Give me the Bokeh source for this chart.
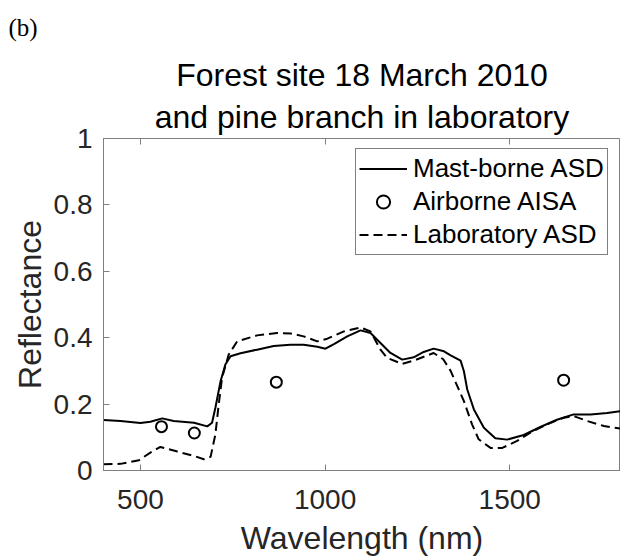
from bokeh.plotting import figure
from bokeh.models import (Range1d, FixedTicker, LinearAxis, Title, Legend, LegendItem,
                          CustomJSTickFormatter)
from bokeh.embed import file_html
from bokeh.resources import INLINE

# ---------------- data ----------------
mast_wl = [400, 446, 500, 527, 559, 590, 645, 681, 694, 703, 717, 730, 744, 771, 816,
           861, 906, 942, 979, 1001, 1024, 1060, 1096, 1123, 1150, 1177, 1209, 1240,
           1267, 1294, 1322, 1340, 1367, 1376, 1385, 1403, 1430, 1461, 1493, 1538,
           1583, 1628, 1673, 1719, 1764, 1800]
mast_refl = [0.152, 0.149, 0.143, 0.147, 0.157, 0.149, 0.144, 0.133, 0.144, 0.189,
             0.269, 0.319, 0.344, 0.353, 0.364, 0.375, 0.379, 0.379, 0.373, 0.367,
             0.381, 0.404, 0.422, 0.414, 0.384, 0.354, 0.334, 0.341, 0.357, 0.367,
             0.359, 0.347, 0.331, 0.299, 0.244, 0.184, 0.129, 0.097, 0.093, 0.107,
             0.131, 0.153, 0.169, 0.169, 0.173, 0.179]

lab_wl = [400, 446, 496, 527, 554, 600, 645, 672, 690, 703, 712, 721, 739, 762, 816,
          870, 906, 942, 979, 1006, 1051, 1096, 1123, 1150, 1168, 1209, 1240, 1294,
          1320, 1340, 1376, 1398, 1416, 1448, 1480, 1520, 1556, 1601, 1646, 1673,
          1710, 1755, 1800]
lab_refl = [0.019, 0.020, 0.031, 0.054, 0.071, 0.057, 0.044, 0.034, 0.041, 0.109,
            0.199, 0.279, 0.349, 0.389, 0.407, 0.414, 0.413, 0.404, 0.389, 0.397,
            0.419, 0.431, 0.419, 0.364, 0.339, 0.321, 0.331, 0.354, 0.335, 0.300,
            0.209, 0.139, 0.094, 0.068, 0.068, 0.089, 0.114, 0.139, 0.159, 0.164,
            0.149, 0.134, 0.126]

aisa_wl = [557, 646, 868, 1646]
aisa_refl = [0.132, 0.113, 0.266, 0.272]

x_ticks = [500, 1000, 1500]
y_ticks = [0, 0.2, 0.4, 0.6, 0.8, 1]

title_lines = ["Forest site 18 March 2010", "and pine branch in laboratory"]
panel_tag = "(b)"
series_names = ["Mast-borne ASD", "Airborne AISA", "Laboratory ASD"]

# ---------------- figure ----------------
SANS = "Liberation Sans"
TXT = "#262626"
AX = "#7f7f7f"

p = figure(width=620, height=558, output_backend="svg", toolbar_location=None,
           x_range=Range1d(400, 1800), y_range=Range1d(0, 1),
           min_border_left=103, min_border_right=0, min_border_top=138,
           min_border_bottom=88, background_fill_color="white",
           border_fill_color="white")
p.grid.visible = False
p.outline_line_color = AX
p.outline_line_width = 1

for ax in (p.xaxis[0], p.yaxis[0]):
    ax.major_tick_in = 6
    ax.major_tick_out = 0
    ax.minor_tick_line_color = None
    ax.axis_line_color = AX
    ax.major_tick_line_color = AX
    ax.major_label_text_font = SANS
    ax.major_label_text_font_size = "28px"
    ax.major_label_text_color = TXT
    ax.axis_label_text_font = SANS
    ax.axis_label_text_font_size = "32px"
    ax.axis_label_text_font_style = "normal"
    ax.axis_label_text_color = TXT

p.xaxis[0].ticker = FixedTicker(ticks=x_ticks)
p.yaxis[0].ticker = FixedTicker(ticks=y_ticks)
p.yaxis[0].formatter = CustomJSTickFormatter(code="return String(Math.round(tick*10)/10);")
p.xaxis[0].axis_label = "Wavelength (nm)"
p.yaxis[0].axis_label = "Reflectance"
p.xaxis[0].major_label_standoff = 19
p.yaxis[0].major_label_standoff = 11
p.xaxis[0].axis_label_standoff = 8
p.yaxis[0].axis_label_standoff = 3

# mirrored tick marks along the top edge (no labels)
top = LinearAxis(ticker=FixedTicker(ticks=x_ticks), major_tick_in=6, major_tick_out=0,
                 minor_tick_line_color=None, axis_line_color=None,
                 major_tick_line_color=AX, major_label_text_font_size="0px",
                 major_label_standoff=0)
p.add_layout(top, "above")

# ---------------- glyphs ----------------
r_mast = p.line(mast_wl, mast_refl, line_color="black", line_width=2)
r_aisa = p.scatter(aisa_wl, aisa_refl, marker="circle", size=11, fill_color=None,
                   line_color="black", line_width=2)
r_lab = p.line(lab_wl, lab_refl, line_color="black", line_width=2, line_dash="9 5")

legend = Legend(items=[LegendItem(label=series_names[0], renderers=[r_mast]),
                       LegendItem(label=series_names[1], renderers=[r_aisa]),
                       LegendItem(label=series_names[2], renderers=[r_lab])],
                location=(252, 215), orientation="vertical",
                label_text_font=SANS, label_text_font_size="26px",
                label_text_color="black", glyph_width=48, glyph_height=33,
                label_height=33, label_standoff=6, spacing=0, padding=3, margin=0,
                border_line_color="black", border_line_width=1,
                background_fill_color="white", background_fill_alpha=1)
p.add_layout(legend, "center")

# ---------------- titles (added closest-first) ----------------
p.add_layout(Title(text=title_lines[1], align="center", text_font=SANS,
                   text_font_size="32px", text_font_style="normal",
                   text_color="black", standoff=8), "above")
p.add_layout(Title(text=title_lines[0], align="center", text_font=SANS,
                   text_font_size="32px", text_font_style="normal",
                   text_color="black", standoff=0), "above")
# the figure's own title (outermost) carries the panel tag
p.title.text = panel_tag
p.title.align = "left"
p.title.offset = -95
p.title.vertical_align = "top"
p.title.text_font = "Liberation Serif"
p.title.text_font_size = "25px"
p.title.text_font_style = "normal"
p.title.text_color = "black"
p.title.standoff = 24

open("out.html", "w").write(file_html(p, INLINE))
